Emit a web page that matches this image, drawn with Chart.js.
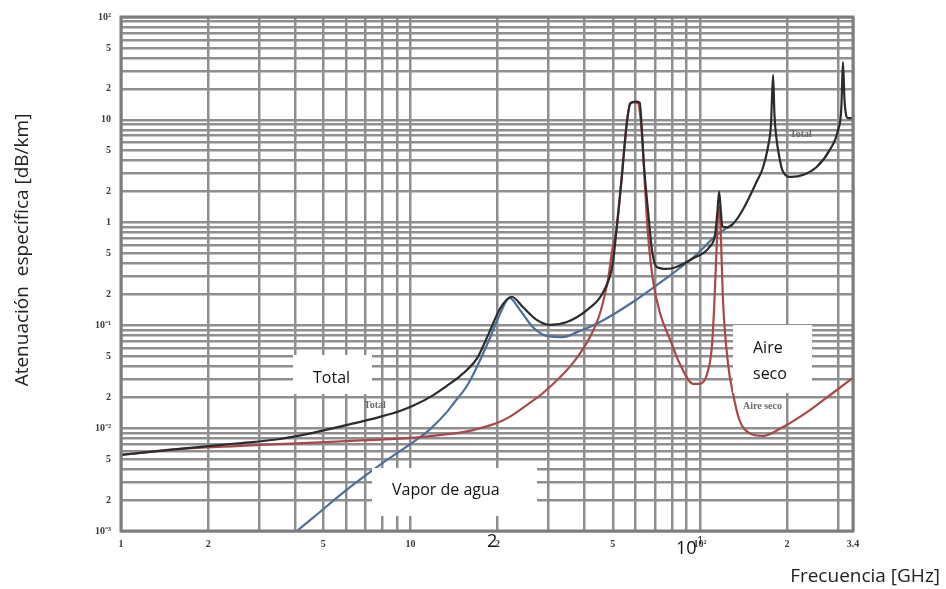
<!DOCTYPE html>
<html>
<head>
<meta charset="utf-8">
<script src="https://cdn.jsdelivr.net/npm/chart.js@4.4.1/dist/chart.umd.min.js"></script>
<style>
html,body{margin:0;padding:0;background:#fff;}
#wrap{position:relative;width:946px;height:589px;}
</style>
</head>
<body>
<div id="wrap"><canvas id="c" width="946" height="589"></canvas></div>
<script>
// ---------- data (GHz, dB/km) ----------
const totalFreq = [1, 1.6, 2.5, 3.54, 4.6, 6.0, 7.85, 9.2, 10.2, 12, 13.4, 14.8, 15.7, 17, 18.8, 20.4, 22.4, 24.5, 27.3, 30.3, 34.7, 40.7, 46.3, 50, 51.5, 53.6, 55.9, 57.5, 60, 62, 63, 64, 66.3, 68.5, 71, 76.6, 83, 94.8, 108, 113, 115, 116.5, 118, 119.5, 124, 130, 141, 157, 165, 172, 176, 179, 181, 184, 187, 193, 207, 227, 253, 281, 300, 308, 312, 316, 324, 338];
const totalVal  = [0.0055, 0.0063, 0.0071, 0.00785, 0.009, 0.0107, 0.0129, 0.0147, 0.0165, 0.021, 0.026, 0.032, 0.037, 0.048, 0.088, 0.146, 0.19, 0.15, 0.113, 0.101, 0.108, 0.141, 0.21, 0.40, 0.85, 2.6, 9.3, 14.5, 15.0, 14.6, 8.0, 3.8, 1.24, 0.51, 0.37, 0.354, 0.37, 0.45, 0.58, 0.78, 1.3, 2.0, 1.35, 0.92, 0.9, 0.97, 1.35, 2.5, 3.4, 5.5, 9, 27.3, 11, 6.5, 4.75, 3.2, 2.78, 2.9, 3.47, 5.1, 7.9, 13, 36.5, 15.4, 10.4, 10.4];

const dryFreq = [1, 1.6, 2.5, 3.5, 6, 10.8, 15.7, 17.4, 20, 22, 25, 28.7, 36.4, 41.7, 45.2, 48.1, 50, 51.5, 53.6, 55.9, 57.5, 59, 61, 63, 64, 66, 68.8, 72.8, 79, 85, 95, 100, 106, 110, 112, 114, 115.5, 116.5, 117.5, 119, 120, 125, 130, 137, 148, 165, 193, 240, 288, 338];
const dryVal  = [0.0055, 0.0063, 0.0067, 0.0070, 0.0075, 0.0082, 0.0093, 0.0100, 0.0113, 0.0129, 0.0165, 0.022, 0.043, 0.077, 0.132, 0.277, 0.58, 0.85, 2.6, 9.3, 14.3, 14.8, 14.6, 7.5, 3.6, 0.85, 0.277, 0.132, 0.072, 0.043, 0.027, 0.027, 0.034, 0.062, 0.15, 0.5, 1.2, 1.45, 1.1, 0.4, 0.19, 0.043, 0.022, 0.012, 0.009, 0.0084, 0.0102, 0.015, 0.022, 0.031];

const vaporFreq = [4.05, 4.6, 6.0, 7.85, 10.8, 11.7, 13.4, 14.0, 15.7, 17.0, 18.8, 20.4, 22.0, 23.9, 26.5, 29.6, 33.6, 37.6, 45.2, 58.7, 72.8, 95, 114, 124, 130];
const vaporVal  = [0.001, 0.00134, 0.0025, 0.0044, 0.0082, 0.0098, 0.0145, 0.017, 0.026, 0.040, 0.075, 0.13, 0.185, 0.141, 0.096, 0.079, 0.077, 0.086, 0.108, 0.169, 0.26, 0.46, 0.75, 0.89, 0.96];

// ---------- axes: grid positions and tick labels ----------
const xGrid = [1,2,3,4,5,6,7,8,9,10,20,30,40,50,60,70,80,90,100,200,300,338];
const xTickVals = [1, 2, 5, 10, 20, 50, 100, 200, 338];
const xTickText = ['1', '2', '5', '10', '2', '5', '10²', '2', '3.4'];
const yGrid = [0.001,0.002,0.003,0.004,0.005,0.006,0.007,0.008,0.009,
               0.01,0.02,0.03,0.04,0.05,0.06,0.07,0.08,0.09,
               0.1,0.2,0.3,0.4,0.5,0.6,0.7,0.8,0.9,
               1,2,3,4,5,6,7,8,9,
               10,20,30,40,50,60,70,80,90,100];
const yTickVals = [0.001, 0.002, 0.005, 0.01, 0.02, 0.05, 0.1, 0.2, 0.5, 1, 2, 5, 10, 20, 50, 100];
const yTickText = ['10⁻³', '2', '5', '10⁻²', '2', '5', '10⁻¹', '2', '5', '1', '2', '5', '10', '2', '5', '10²'];

const xTitle = 'Frecuencia [GHz]';
const yTitle = 'Atenuación  específica [dB/km]';

function lab(v, vals, texts) {
  for (let i = 0; i < vals.length; i++) {
    if (Math.abs(v - vals[i]) / vals[i] < 1e-6) return texts[i];
  }
  return '';
}
function pts(fs, vs) { return fs.map((f, i) => ({x: f, y: vs[i]})); }

const overlay = {
  id: 'overlay',
  afterDraw(chart) {
    const c = chart.ctx, a = chart.chartArea;
    c.save();
    // frame
    c.strokeStyle = '#7d7d7d';
    c.lineWidth = 3;
    c.strokeRect(a.left, a.top, a.right - a.left, a.bottom - a.top);

    // small original labels from the scanned chart
    c.fillStyle = '#6a6a6a';
    c.font = 'bold 10px "Liberation Serif"';
    c.textBaseline = 'alphabetic';
    c.textAlign = 'left';
    c.fillText('Total', 364, 408);
    c.fillText('Total', 790, 137);
    c.fillText('Aire seco', 743, 409);

    // white label boxes
    c.fillStyle = '#ffffff';
    c.fillRect(293, 355, 79, 39);
    c.fillRect(372, 468, 165, 48);
    c.fillRect(733, 325, 79, 68);

    c.fillStyle = '#111';
    c.font = '16px "Open Sans"';
    c.fillText('Total', 313, 383);
    c.fillText('Vapor de agua', 392, 495);
    c.fillText('Aire', 753, 353);
    c.fillText('seco', 753, 379);

    // overlaid axis numbers
    c.font = '18px "Open Sans"';
    c.fillText('2', 487, 547);
    c.fillText('10', 676, 554);
    c.font = '11px "Open Sans"';
    c.fillText('1', 697, 544);

    // axis titles
    c.fillStyle = '#222';
    c.font = '19px "Open Sans"';
    c.textAlign = 'right';
    c.fillText(xTitle, 940, 582);
    c.save();
    c.translate(23, 250);
    c.rotate(-Math.PI / 2);
    c.textAlign = 'center';
    c.textBaseline = 'middle';
    c.fillText(yTitle, 0, 0);
    c.restore();
    c.restore();
  }
};

const tickFont = {family: 'Liberation Serif', size: 10, weight: 'bold'};

new Chart(document.getElementById('c').getContext('2d'), {
  type: 'line',
  data: {
    datasets: [
      {label: 'Total', data: pts(totalFreq, totalVal), borderColor: '#2b2b2b', borderWidth: 2.2, pointRadius: 0, cubicInterpolationMode: 'monotone', fill: false},
      {label: 'Aire seco', data: pts(dryFreq, dryVal), borderColor: '#a94848', borderWidth: 2.2, pointRadius: 0, cubicInterpolationMode: 'monotone', fill: false},
      {label: 'Vapor de agua', data: pts(vaporFreq, vaporVal), borderColor: '#4f6f99', borderWidth: 2.2, pointRadius: 0, cubicInterpolationMode: 'monotone', fill: false}
    ]
  },
  options: {
    responsive: false,
    animation: false,
    devicePixelRatio: 1,
    layout: {padding: {top: 17, right: 93, left: 0, bottom: 0}},
    plugins: {legend: {display: false}, tooltip: {enabled: false}},
    scales: {
      x: {
        type: 'logarithmic', min: 1, max: 338,
        afterBuildTicks: s => { s.ticks = xGrid.map(v => ({value: v})); },
        afterFit: s => { s.height = 58; },
        grid: {color: '#8f8f8f', lineWidth: 2.5, drawTicks: false},
        border: {display: false},
        ticks: {autoSkip: false, maxRotation: 0, padding: 7, font: tickFont, color: '#3a3a3a',
                callback: v => lab(v, xTickVals, xTickText)}
      },
      y: {
        type: 'logarithmic', min: 0.001, max: 100,
        afterBuildTicks: s => { s.ticks = yGrid.map(v => ({value: v})); },
        afterFit: s => { s.width = 121; },
        grid: {color: '#8f8f8f', lineWidth: 2.5, drawTicks: false},
        border: {display: false},
        ticks: {autoSkip: false, padding: 10, font: tickFont, color: '#3a3a3a',
                callback: v => lab(v, yTickVals, yTickText)}
      }
    }
  },
  plugins: [overlay]
});
</script>
</body>
</html>
